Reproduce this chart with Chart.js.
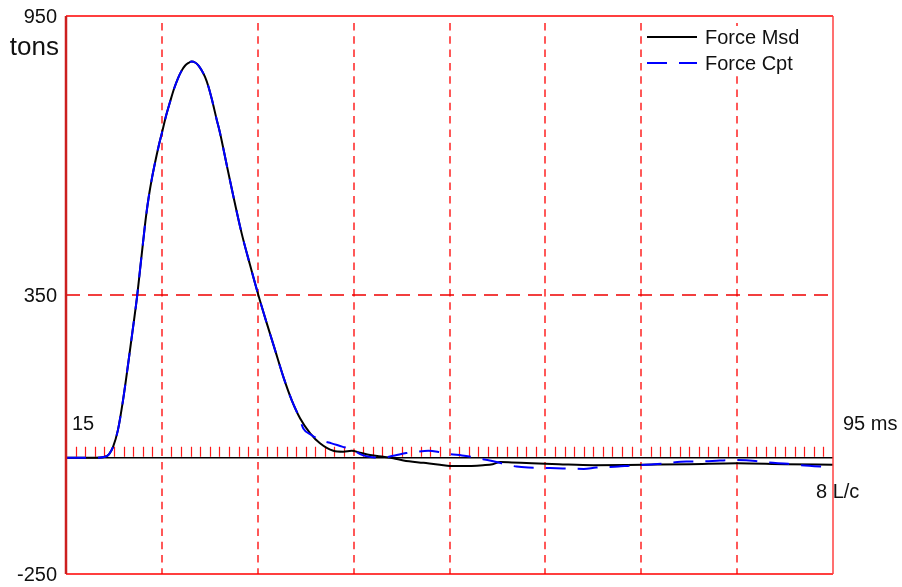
<!DOCTYPE html>
<html>
<head>
<meta charset="utf-8">
<script src="https://cdn.jsdelivr.net/npm/chart.js@4.4.1/dist/chart.umd.min.js"></script>
<style>
  html, body { margin: 0; padding: 0; background: #ffffff; }
  canvas { display: block; }
</style>
</head>
<body>
<canvas id="forceChart" width="902" height="587"></canvas>
<script>
// Time window (ms) and force range (tons)
const timeRange = [15, 95];
const forceRange = [-250, 950];
const forceTicks = [-250, 350, 950];
const gridTimes = [25, 35, 45, 55, 65, 75, 85];
const refForce = 350;

// Measured force trace
const timeMsd = [15, 18, 19.07, 19.5, 19.9, 20.42, 20.95, 21.47, 21.99, 22.41,
  22.72, 23.03, 23.34, 23.66, 23.97, 24.28, 24.65, 25.01, 25.43, 25.85,
  26.26, 26.68, 27.05, 27.41, 27.78, 28.11, 28.46, 28.8, 29.13, 29.5,
  29.86, 30.2, 30.72, 31.06, 31.76, 32.45, 33.33, 34.19, 35.06, 35.93,
  36.8, 37.67, 38.54, 39.41, 40.45, 41.49, 42.88, 43.92, 44.8, 45.66,
  46.71, 48.1, 49.14, 50.2, 52.3, 54.0, 55.05, 56.4, 58.5, 59.5,
  60.3, 61.5, 63.6, 66.4, 70, 75.2, 80, 85, 90, 95];
const forceMsd = [0, 0, 2, 8, 23, 60, 124, 200, 280, 346,
  404, 462, 518, 565, 602, 634, 669, 699, 735, 765,
  793, 816, 832, 843, 849, 852, 850, 844, 834, 819,
  798, 772, 727, 699, 630, 563, 482, 415, 350, 290,
  232, 174, 124, 85, 53, 31, 15, 13, 15, 11,
  6, 2, -1, -6, -11, -15, -18, -18, -16, -14,
  -9, -10, -12, -14, -16, -15, -14, -12, -14, -15];

// Computed force trace
const timeCpt = [15, 18, 19.07, 19.5, 19.9, 20.42, 20.95, 21.47, 21.99, 22.41,
  22.72, 23.03, 23.34, 23.66, 23.97, 24.28, 24.65, 25.01, 25.43, 25.85,
  26.26, 26.68, 27.05, 27.41, 27.78, 28.11, 28.46, 28.8, 29.13, 29.5,
  29.86, 30.2, 30.72, 31.06, 31.76, 32.45, 33.33, 34.19, 35.06, 35.93,
  36.8, 37.67, 38.54, 39.3, 39.75, 40.6, 41.5, 42.7, 43.8, 44.8,
  46.0, 47.0, 48.0, 49.3, 50.5, 51.6, 52.8, 54.0, 55.05, 56.3,
  57.5, 58.5, 59.9, 61.0, 62.0, 63.2, 65.5, 66.8, 69.0, 70.3,
  72.6, 73.8, 76.3, 77.5, 79.7, 81.1, 83.2, 84.6, 86.9, 88.1,
  90.3, 91.7, 94, 95];
const forceCpt = [0, 0, 2, 8, 23, 60, 124, 200, 280, 346,
  404, 462, 518, 565, 602, 634, 669, 699, 735, 765,
  793, 816, 832, 843, 849, 852, 850, 844, 834, 819,
  798, 772, 727, 699, 630, 563, 482, 415, 350, 290,
  232, 174, 124, 88, 63, 49, 38, 31, 24, 18,
  5, 1, 0, 5, 10, 13, 15, 12, 8, 5,
  1, -3, -9, -15, -19, -21, -22, -23, -24, -21,
  -19, -17, -14, -12, -8, -8, -6, -5, -7, -10,
  -13, -16, -19, -20];

const seriesLabels = ['Force Msd', 'Force Cpt'];
const forceUnit = 'tons';
const timeUnit = 'ms';
const noteText = '8 L/c';

const FONT = 'Arial, "Liberation Sans", Helvetica, sans-serif';

function toPoints(xs, ys) {
  return xs.map((x, i) => ({ x: x, y: ys[i] }));
}

// Grid, baseline ticks, frame, labels and legend
const tracePlot = {
  id: 'tracePlot',
  beforeDatasetsDraw(chart) {
    const { ctx, chartArea: a, scales: { x, y } } = chart;
    ctx.save();
    // vertical dashed time lines
    ctx.strokeStyle = 'rgba(255, 70, 70, 0.9)';
    ctx.lineWidth = 2;
    ctx.setLineDash([7.5, 5.8]);
    gridTimes.forEach(t => {
      const px = Math.round(x.getPixelForValue(t));
      ctx.beginPath();
      ctx.moveTo(px, a.top + 7);
      ctx.lineTo(px, a.bottom);
      ctx.stroke();
    });
    // reference force line
    const py = Math.round(y.getPixelForValue(refForce));
    ctx.strokeStyle = '#ee0000';
    ctx.lineWidth = 1.5;
    ctx.setLineDash([14, 8]);
    ctx.beginPath();
    ctx.moveTo(a.left, py);
    ctx.lineTo(a.right, py);
    ctx.stroke();
    ctx.setLineDash([]);
    // 1 ms ticks above the zero line
    const y0 = y.getPixelForValue(0);
    ctx.strokeStyle = '#ff1a1a';
    ctx.lineWidth = 1.2;
    for (let t = timeRange[0] + 1; t < timeRange[1]; t++) {
      if (gridTimes.includes(t)) continue;
      const px = Math.round(x.getPixelForValue(t)) + 0.5;
      ctx.beginPath();
      ctx.moveTo(px, y0 - 11);
      ctx.lineTo(px, y0 - 1);
      ctx.stroke();
    }
    // zero line
    ctx.strokeStyle = '#000000';
    ctx.lineWidth = 1.5;
    ctx.beginPath();
    ctx.moveTo(a.left, y0);
    ctx.lineTo(a.right, y0);
    ctx.stroke();
    ctx.restore();
  },
  afterDatasetsDraw(chart) {
    const { ctx, chartArea: a, scales: { x, y } } = chart;
    ctx.save();
    // frame
    ctx.setLineDash([]);
    ctx.strokeStyle = '#ff0000';
    ctx.lineWidth = 1.5;
    ctx.beginPath();
    ctx.moveTo(a.left, a.top);
    ctx.lineTo(a.right, a.top);
    ctx.moveTo(a.left, a.bottom);
    ctx.lineTo(a.right, a.bottom);
    ctx.stroke();
    ctx.strokeStyle = '#ff4040';
    ctx.beginPath();
    ctx.moveTo(a.right, a.top);
    ctx.lineTo(a.right, a.bottom);
    ctx.stroke();
    ctx.strokeStyle = '#cc1f1f';
    ctx.lineWidth = 2.5;
    ctx.beginPath();
    ctx.moveTo(a.left, a.top);
    ctx.lineTo(a.left, a.bottom);
    ctx.stroke();

    // force tick labels
    ctx.fillStyle = '#111111';
    ctx.font = '20px ' + FONT;
    ctx.textAlign = 'right';
    ctx.textBaseline = 'middle';
    forceTicks.forEach(v => {
      ctx.fillText(String(v), a.left - 9, y.getPixelForValue(v) + 1);
    });

    // unit and time labels
    ctx.font = '26px ' + FONT;
    ctx.textAlign = 'right';
    ctx.textBaseline = 'alphabetic';
    ctx.fillText(forceUnit, a.left - 7, a.top + 39);

    ctx.font = '20px ' + FONT;
    ctx.textAlign = 'left';
    ctx.textBaseline = 'middle';
    const yLab = y.getPixelForValue(0) - 33;
    ctx.fillText(String(timeRange[0]), x.getPixelForValue(timeRange[0]) + 6, yLab);
    ctx.fillText(timeRange[1] + ' ' + timeUnit, x.getPixelForValue(timeRange[1]) + 10, yLab);
    ctx.fillText(noteText, a.right - 17, y.getPixelForValue(0) + 35);

    // legend
    const lx = 647, lw = 50, tx = 705;
    const rows = [37, 63];
    ctx.fillStyle = '#ffffff';
    ctx.fillRect(645, 26, 185, 49);
    chart.data.datasets.forEach((ds, i) => {
      const ry = rows[i];
      ctx.strokeStyle = ds.borderColor;
      ctx.lineWidth = 2;
      ctx.setLineDash(ds.borderDash || []);
      ctx.beginPath();
      ctx.moveTo(lx, ry);
      ctx.lineTo(lx + lw, ry);
      ctx.stroke();
      ctx.setLineDash([]);
      ctx.fillStyle = '#111111';
      ctx.font = '20px ' + FONT;
      ctx.textAlign = 'left';
      ctx.textBaseline = 'middle';
      ctx.fillText(ds.label, tx, ry + 1);
    });
    ctx.restore();
  }
};

new Chart(document.getElementById('forceChart'), {
  type: 'line',
  data: {
    datasets: [
      {
        label: seriesLabels[0],
        data: toPoints(timeMsd, forceMsd),
        borderColor: '#000000',
        borderWidth: 2,
        pointRadius: 0,
        cubicInterpolationMode: 'monotone',
        fill: false,
        order: 2
      },
      {
        label: seriesLabels[1],
        data: toPoints(timeCpt, forceCpt),
        borderColor: '#0000ff',
        borderWidth: 2,
        borderDash: [20, 12],
        pointRadius: 0,
        cubicInterpolationMode: 'monotone',
        fill: false,
        order: 1
      }
    ]
  },
  options: {
    responsive: false,
    animation: false,
    devicePixelRatio: 1,
    layout: { padding: { top: 16, right: 69, bottom: 13, left: 66 } },
    plugins: { legend: { display: false }, tooltip: { enabled: false } },
    scales: {
      x: {
        type: 'linear',
        min: timeRange[0],
        max: timeRange[1],
        display: false
      },
      y: {
        type: 'linear',
        min: forceRange[0],
        max: forceRange[1],
        display: false
      }
    }
  },
  plugins: [tracePlot]
});
</script>
</body>
</html>
